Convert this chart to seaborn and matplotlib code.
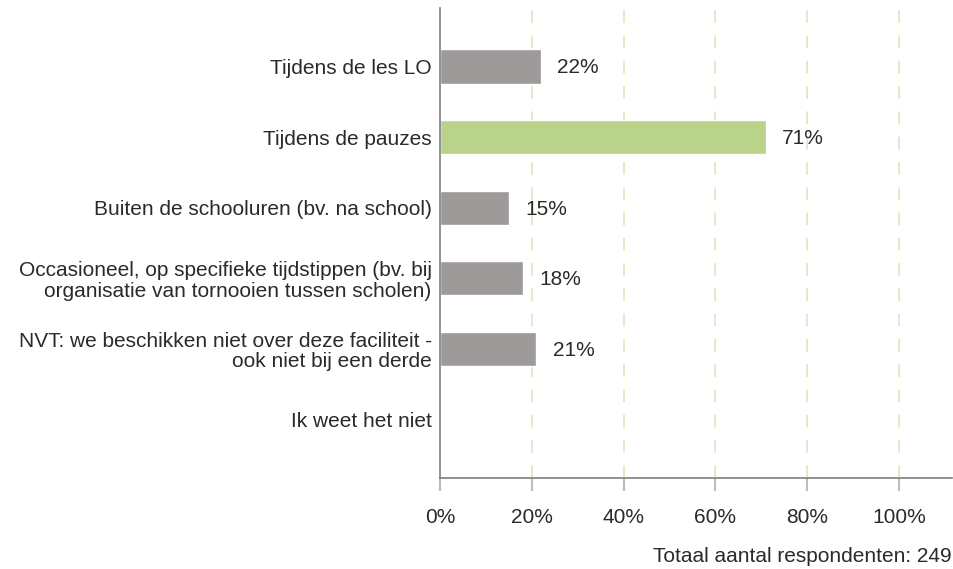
import matplotlib
matplotlib.use("Agg")
import matplotlib.pyplot as plt
import seaborn as sns
import pandas as pd

categories = [
    "Tijdens de les LO",
    "Tijdens de pauzes",
    "Buiten de schooluren (bv. na school)",
    "Occasioneel, op specifieke tijdstippen (bv. bij\norganisatie van tornooien tussen scholen)",
    "NVT: we beschikken niet over deze faciliteit -\nook niet bij een derde",
    "Ik weet het niet",
]
values = [22, 71, 15, 18, 21, 0]
value_labels = ["22%", "71%", "15%", "18%", "21%", ""]
bar_colors = ["#9e9a9a", "#b9d38a", "#9e9a9a", "#9e9a9a", "#9e9a9a", "#9e9a9a"]
x_ticks = [0, 20, 40, 60, 80, 100]
x_tick_labels = ["0%", "20%", "40%", "60%", "80%", "100%"]
footer = "Totaal aantal respondenten: 249"

sns.set_style("white")
plt.rcParams["font.family"] = ["Liberation Sans", "DejaVu Sans"]
FS = 15
TXT = "#2a2a2a"

df = pd.DataFrame({"cat": categories, "val": values})

fig = plt.figure(figsize=(9.54, 5.69), dpi=100)
ax = fig.add_axes([440 / 954, 1 - 478 / 569, (952 - 440) / 954, (478 - 8) / 569])

sns.barplot(data=df, x="val", y="cat", hue="cat", palette=bar_colors,
            legend=False, width=0.485, ax=ax, orient="h", saturation=1)

ax.set_xlim(0, 111.6)
ax.set_ylim(5.83, -0.83)

for x in x_ticks[1:]:
    ax.axvline(x, color="#dde9c3", linestyle=(0, (7, 7)), linewidth=1.3, zorder=0)

for i, (v, lab) in enumerate(zip(values, value_labels)):
    if lab:
        ax.text(v + 3.6, i + 0.02, lab, va="center", ha="left", fontsize=FS, color=TXT)

ax.set_xticks(x_ticks)
ax.set_xticklabels(x_tick_labels, fontsize=FS, color=TXT)
ax.tick_params(axis="x", bottom=True, length=9.5, width=1.5, color="#bdbdbd",
               pad=12, direction="out")
ax.tick_params(axis="y", left=False, length=0, pad=6, labelsize=FS, labelcolor=TXT)
ax.set_xlabel("")
ax.set_ylabel("")

for s in ["top", "right"]:
    ax.spines[s].set_visible(False)
for s in ["left", "bottom"]:
    ax.spines[s].set_color("#7f7f7f")
    ax.spines[s].set_linewidth(1.2)

for lbl in ax.get_yticklabels():
    lbl.set_horizontalalignment("right")
    lbl.set_multialignment("right")
    lbl.set_linespacing(1.1)

fig.text(952 / 954, 1 - 556 / 569, footer, ha="right", va="center", fontsize=FS, color=TXT)

fig.savefig("out.png", dpi=100, facecolor="white")
